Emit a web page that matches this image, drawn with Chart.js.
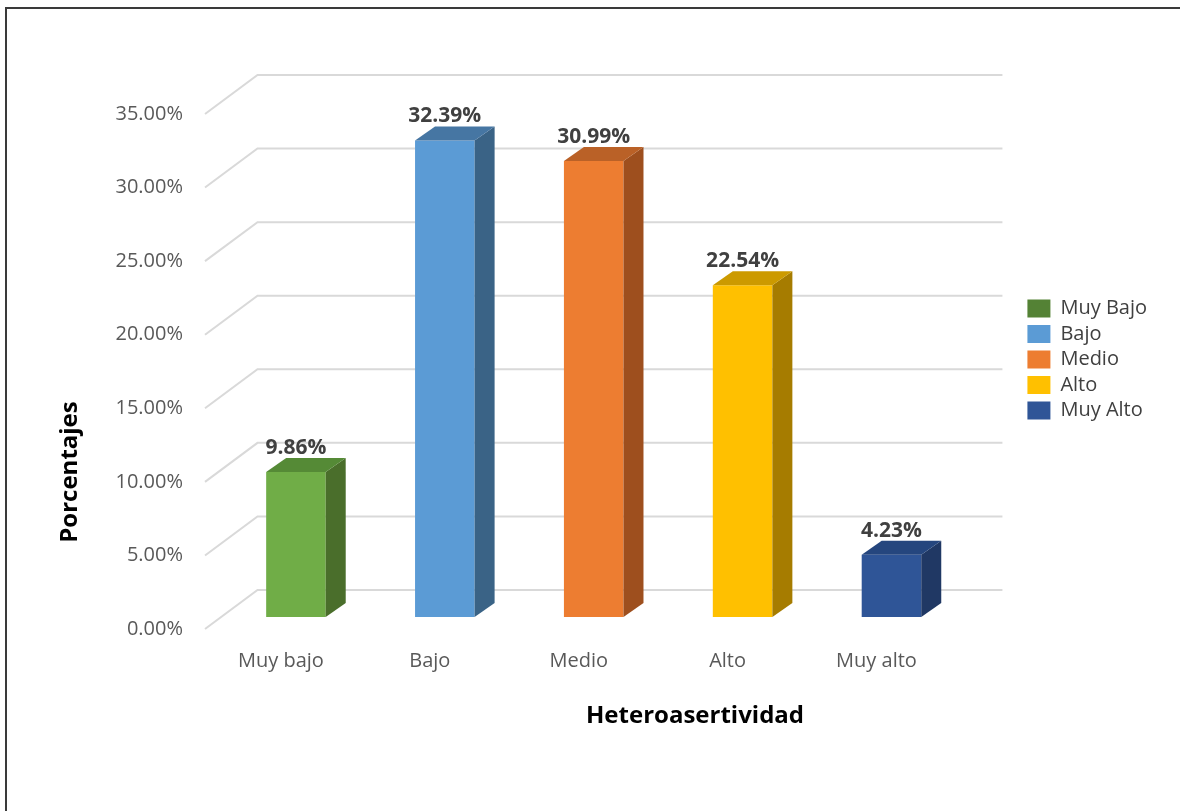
<!DOCTYPE html>
<html><head><meta charset="utf-8">
<script src="https://cdn.jsdelivr.net/npm/chart.js@4/dist/chart.umd.min.js"></script>
<style>html,body{margin:0;padding:0;background:#fff}canvas{display:block}</style>
</head><body><canvas id="c" width="1180" height="811"></canvas>
<script>
// ---- data ----
const categories = ['Muy bajo', 'Bajo', 'Medio', 'Alto', 'Muy alto'];
const legendLabels = ['Muy Bajo', 'Bajo', 'Medio', 'Alto', 'Muy Alto'];
const percentages = [9.86, 32.39, 30.99, 22.54, 4.23];
const yAxisTitle = 'Porcentajes';
const xAxisTitle = 'Heteroasertividad';

// ---- styles ----
const frontColors = ['#70AD47', '#5B9BD5', '#ED7D31', '#FFC000', '#2F5597'];
const topColors   = ['#558A36', '#4676A3', '#BA6127', '#CC9A00', '#25467E'];
const sideColors  = ['#4A6E2B', '#3A6386', '#9E4F1E', '#A67C00', '#203864'];
const legendColors = ['#548235', '#5B9BD5', '#ED7D31', '#FFC000', '#2F5597'];
const FONT = "'Open Sans', sans-serif";
const DX = 20, DY = 14;

const fake3d = {
  id: 'fake3d',
  beforeDraw(chart) {
    const ctx = chart.ctx;
    ctx.save();
    ctx.fillStyle = '#fff';
    ctx.fillRect(0, 0, chart.width, chart.height);
    ctx.strokeStyle = '#3a3a3a';
    ctx.lineWidth = 2;
    ctx.beginPath();
    ctx.moveTo(6, chart.height + 5);
    ctx.lineTo(6, 8);
    ctx.lineTo(chart.width + 5, 8);
    ctx.stroke();
    ctx.restore();
  },
  beforeDatasetsDraw(chart) {
    const { ctx, chartArea: a, scales: { y } } = chart;
    ctx.save();
    ctx.strokeStyle = '#d9d9d9';
    ctx.lineWidth = 2;
    y.ticks.forEach(t => {
      const p = y.getPixelForValue(t.value);
      const back = p - 27, front = p + 12;
      ctx.beginPath();
      ctx.moveTo(a.left - 16.5, front);
      ctx.lineTo(a.left + 36, back);
      ctx.lineTo(a.right + 36.5, back);
      ctx.stroke();
    });
    ctx.restore();
  },
  afterDatasetsDraw(chart) {
    const ctx = chart.ctx;
    const meta = chart.getDatasetMeta(0);
    ctx.save();
    meta.data.forEach((bar, i) => {
      const { x, y, base, width } = bar.getProps(['x', 'y', 'base', 'width'], true);
      const l = x - width / 2, r = x + width / 2;
      ctx.fillStyle = sideColors[i];
      ctx.beginPath();
      ctx.moveTo(r, y); ctx.lineTo(r + DX, y - DY); ctx.lineTo(r + DX, base - DY); ctx.lineTo(r, base);
      ctx.closePath(); ctx.fill();
      ctx.fillStyle = topColors[i];
      ctx.beginPath();
      ctx.moveTo(l, y); ctx.lineTo(l + DX, y - DY); ctx.lineTo(r + DX, y - DY); ctx.lineTo(r, y);
      ctx.closePath(); ctx.fill();
      ctx.fillStyle = '#404040';
      ctx.font = "bold 21px " + FONT;
      ctx.textAlign = 'center';
      ctx.textBaseline = 'alphabetic';
      ctx.fillText(chart.data.datasets[0].data[i].toFixed(2) + '%', x, y - DY - 4);
    });
    ctx.restore();
  },
  afterDraw(chart) {
    const ctx = chart.ctx;
    ctx.save();
    ctx.fillStyle = '#000';
    ctx.font = "bold 24px " + FONT;
    ctx.textAlign = 'center';
    ctx.textBaseline = 'middle';
    ctx.fillText(xAxisTitle, 695, 716);
    ctx.translate(70, 472);
    ctx.rotate(-Math.PI / 2);
    ctx.fillText(yAxisTitle, 0, 0);
    ctx.restore();
  }
};

new Chart(document.getElementById('c'), {
  type: 'bar',
  data: {
    labels: categories,
    datasets: [{
      data: percentages,
      backgroundColor: frontColors,
      borderWidth: 0,
      barPercentage: 0.4,
      categoryPercentage: 1
    }]
  },
  options: {
    responsive: false,
    devicePixelRatio: 1,
    animation: false,
    layout: { padding: { top: 102, right: 23, bottom: 0, left: 0 } },
    plugins: {
      tooltip: { enabled: false },
      legend: {
        position: 'right',
        fullSize: false,
        onClick: null,
        labels: {
          boxWidth: 23,
          boxHeight: 18,
          padding: 5.5,
          color: '#404040',
          font: { family: FONT, size: 20 },
          generateLabels: () => legendLabels.map((t, i) => ({
            text: t, fillStyle: legendColors[i], strokeStyle: legendColors[i],
            lineWidth: 0, hidden: false, index: i, datasetIndex: 0, fontColor: '#404040'
          }))
        }
      }
    },
    scales: {
      x: {
        grid: { display: false, drawTicks: false },
        border: { display: false },
        ticks: { color: '#595959', font: { family: FONT, size: 20 }, padding: 32, labelOffset: -15 },
        afterFit: s => { s.height = 194; }
      },
      y: {
        min: 0, max: 35,
        grid: { display: false, drawTicks: false },
        border: { display: false },
        ticks: {
          stepSize: 5, color: '#595959', font: { family: FONT, size: 20 },
          padding: 38.5, labelOffset: 12,
          callback: v => v.toFixed(2) + '%'
        },
        afterFit: s => { s.width = 221.5; }
      },
      gap: {
        type: 'linear', position: 'right', display: true,
        grid: { display: false, drawTicks: false },
        border: { display: false },
        ticks: { display: false },
        afterFit: s => { s.width = 56; }
      }
    }
  },
  plugins: [fake3d]
});
</script>
</body></html>
